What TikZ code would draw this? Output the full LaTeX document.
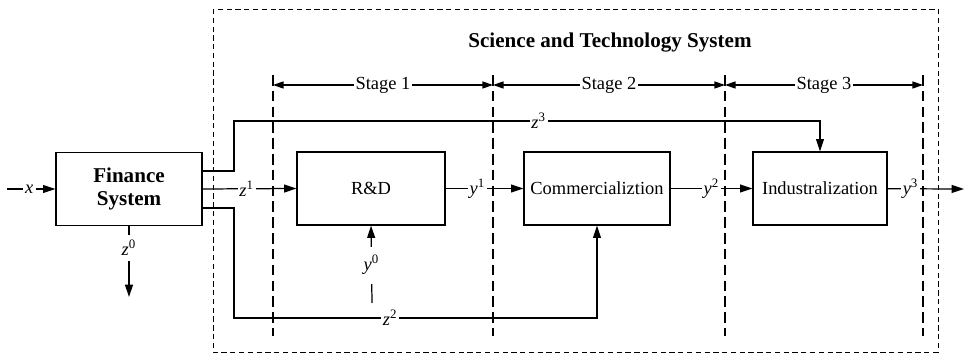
\documentclass[tikz,border=0pt]{standalone}
\usepackage{fontspec}
\setmainfont{Liberation Serif}
\usetikzlibrary{arrows.meta}
\newcommand{\var}[2]{\textit{#1}\textsuperscript{#2}}

\begin{document}
\begin{tikzpicture}[x=0.02cm,y=-0.02cm,line width=0.7pt,font=\fontsize{10.5}{12}\selectfont,
  arr/.style={-{Triangle[length=7pt,width=4.5pt]}},
  dimarr/.style={{Triangle[length=6pt,width=4pt]}-{Triangle[length=6pt,width=4pt]}},
  blk/.style={draw,rectangle,minimum height=1.46cm,inner sep=2pt},
  lbl/.style={fill=white,inner sep=1pt},
  frame/.style={dash pattern=on 3pt off 2pt,line width=0.5pt},
  stageline/.style={dash pattern=on 6pt off 3pt,line width=0.6pt}]
\useasboundingbox (0,0) rectangle (964,357);
\draw[frame] (213,9) rectangle (938,352);
\node[font=\fontsize{12}{14}\selectfont\bfseries] (title) at (610,43) {Science and Technology System};
\foreach \x in {273,493,725,923} {
   \draw[stageline] (\x,75) -- (\x,336);
}
\draw[dimarr] (273,85) -- node[lbl]{Stage 1} (493,85);
\draw[dimarr] (493,85) -- node[lbl]{Stage 2} (725,85);
\draw[dimarr] (725,85) -- node[lbl]{Stage 3} (923,85);
% blocks
\node[blk,minimum width=2.92cm,align=center,font=\fontsize{12}{13.5}\selectfont\bfseries] (fin) at (129,189) {Finance\\System};
\node[blk,minimum width=2.96cm] (rd) at (371,188.5) {R\&D};
\node[blk,minimum width=2.92cm] (com) at (597,188.5) {Commercializtion};
\node[blk,minimum width=2.68cm] (ind) at (820,188.5) {Industralization};
\coordinate (xin) at (7,189);
\coordinate (out) at (964,189);
\coordinate (zdown) at (129,297);
\coordinate (yzero) at (372,303);
% flows
\draw[arr] (xin) -- node[lbl,pos=0.47]{\var{x}{}} (fin);
\draw[arr] (fin.east) -- node[lbl,pos=0.47]{\var{z}{1}} (rd.west);
\draw[arr] ([yshift=0.36cm]fin.east) -| (234,121) -| node[lbl,pos=0.26]{\var{z}{3}} (ind.north);
\draw[arr] ([yshift=-0.38cm]fin.east) -| (234,318) -| node[lbl,pos=0.215]{\var{z}{2}} (com.south);
\draw[arr] (fin.south) -- node[lbl,pos=0.31,inner ysep=3pt]{\var{z}{0}} (zdown);
\draw[arr] (yzero) -- node[lbl,pos=0.49,inner ysep=5pt]{\var{y}{0}} (rd.south);
\draw[arr] (rd) -- node[lbl,pos=0.41]{\var{y}{1}} (com);
\draw[arr] (com) -- node[lbl,pos=0.5]{\var{y}{2}} (ind);
\draw[arr] (ind) -- node[lbl,pos=0.3]{\var{y}{3}} (out);
\end{tikzpicture}
\end{document}
